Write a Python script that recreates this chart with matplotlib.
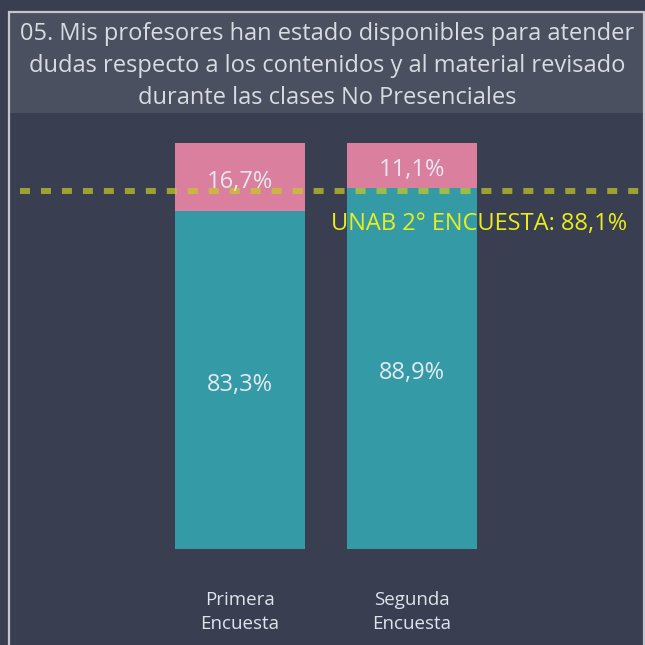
import matplotlib
matplotlib.use("Agg")
import matplotlib.pyplot as plt
from matplotlib.patches import Rectangle

categories = ["Primera\nEncuesta", "Segunda\nEncuesta"]
si_values = [83.3, 88.9]
no_values = [16.7, 11.1]
si_labels = ["83,3%", "88,9%"]
no_labels = ["16,7%", "11,1%"]
ref_value = 88.1
ref_label = "UNAB 2° ENCUESTA: 88,1%"
title = ("05. Mis profesores han estado disponibles para atender\n"
         "dudas respecto a los contenidos y al material revisado\n"
         "durante las clases No Presenciales")

BG = "#393e50"
PANEL = "#4a5060"
TEAL = "#349ba6"
PINK = "#db7f9e"
TXT = "#e6e8f0"

plt.rcParams['font.family'] = ['Open Sans', 'DejaVu Sans']
plt.rcParams['lines.scale_dashes'] = False

W = H = 645
fig = plt.figure(figsize=(6.45, 6.45), dpi=100)
fig.patch.set_facecolor(BG)

def fx(px):
    return px / W
def fy(py):
    return 1 - py / H

# title panel and border
fig.patches.append(Rectangle((fx(9), fy(113)), fx(645 - 9), (113 - 12) / H,
                             transform=fig.transFigure, facecolor=PANEL,
                             edgecolor='none', zorder=0))
fig.patches.append(Rectangle((fx(9), fy(700)), fx(635), (700 - 12) / H,
                             transform=fig.transFigure, facecolor='none',
                             edgecolor='#c4c6cc', lw=1.6, zorder=1))

fig.text(fx(327), fy(66), title, ha='center', va='center', color='#d8dbe2',
         fontsize=17, linespacing=1.47)

# axes: x from 20 to 640 px, y 100 at px 143, 0 at px 549
ax = fig.add_axes([fx(20), fy(549), fx(620), (549 - 143) / H])
ax.set_facecolor('none')
x = [0, 1]
unit = 172.0
ax.set_xlim(-220 / unit, 400 / unit)
ax.set_ylim(0, 100)
width = 130 / unit
ax.bar(x, si_values, width=width, color=TEAL, zorder=2)
ax.bar(x, no_values, width=width, bottom=si_values, color=PINK, zorder=2)

for i in x:
    ax.text(i, si_values[i] / 2 - 1.2, si_labels[i], ha='center', va='center',
            color=TXT, fontsize=17, zorder=4)
    ax.text(i, si_values[i] + no_values[i] / 2 - 1.2, no_labels[i], ha='center',
            va='center', color=TXT, fontsize=17, zorder=4)

ax.axhline(ref_value, color='#c8cc22', alpha=0.7, lw=4.3,
           dashes=(7.2, 7.9), solid_capstyle='butt', dash_capstyle='butt', zorder=3)
ax.text(607 / unit - 220 / unit, ref_value - 8.0, ref_label, ha='right',
        va='center', color='#e8ee1e', fontsize=17, zorder=4)

ax.set_xticks(x)
ax.set_xticklabels(categories, color='#e0e3ea', fontsize=13.5, linespacing=1.45)
ax.tick_params(axis='x', length=0, pad=30)
ax.set_yticks([])
for s in ax.spines.values():
    s.set_visible(False)

fig.savefig("out.png", dpi=100, facecolor=BG)
